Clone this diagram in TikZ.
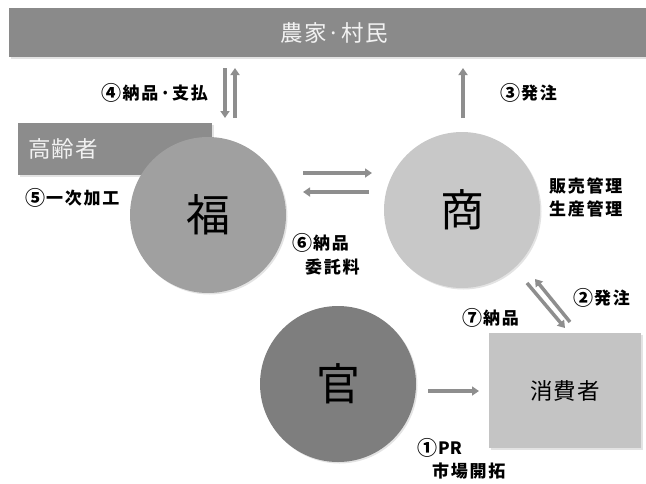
\documentclass[tikz,border=0pt]{standalone}
\usepackage{fontspec}
\setmainfont{Noto Sans CJK JP}
\newfontfamily\lblfont[LetterSpace=10]{Noto Sans CJK JP}
\newfontfamily\plainfont{Noto Sans CJK JP}
\newfontfamily\boxfont[LetterSpace=5]{Noto Sans CJK JP}
\newcommand{\cnum}[1]{\raisebox{-1pt}{\fontsize{20}{23}\selectfont #1}\kern1pt}
\usetikzlibrary{arrows.meta,shadows}
\definecolor{barc}{HTML}{8A8A8A}
\definecolor{oldc}{HTML}{8C8C8C}
\definecolor{fukuc}{HTML}{A0A0A0}
\definecolor{shoc}{HTML}{C8C8C8}
\definecolor{kanc}{HTML}{7E7E7E}
\definecolor{conc}{HTML}{C4C4C4}
\definecolor{arrc}{HTML}{8E8E8E}
\definecolor{lighttext}{HTML}{F2F2F2}
\begin{document}
\begin{tikzpicture}[x=1pt,y=-1pt,
  arr/.style={draw=arrc, line width=3.5pt, -{Triangle[length=7pt,width=9pt]}},
  lbl/.style={font=\lblfont\fontsize{17}{23}\selectfont\bfseries, text=black, inner sep=0pt, align=left},
  shd/.style={drop shadow={opacity=0.22, shadow xshift=1.5pt, shadow yshift=-1.5pt}},
  bigc/.style={circle, shd, minimum size=156pt, inner sep=0pt, font=\fontsize{44}{44}\selectfont, text=black},
  boxt/.style={font=\boxfont\fontsize{22.5}{22.5}\selectfont, inner sep=0pt}]
\useasboundingbox (0,0) rectangle (646,483);
% top bar
\node[boxt, shd, fill=barc, anchor=north west, minimum width=640pt, minimum height=49pt] (farm) at (9,8) {};
\node[boxt, text=lighttext] (farmt) at (334,33) {農家·村民};
% elderly box
\node[boxt, shd, fill=oldc, text=lighttext, anchor=north west, minimum height=52pt, text width=174pt, inner xsep=10pt, align=left] (old) at (18,123) {高齢者};
% circles
\node[bigc, fill=fukuc] (fuku) at (208,215) {福};
\node[bigc, fill=shoc] (sho) at (462,210) {商};
\node[bigc, fill=kanc] (kan) at (338,384) {官};
% consumer box
\node[boxt, shd, fill=conc, anchor=north west, minimum width=152pt, minimum height=115pt] (con) at (489,333) {消費者};
% arrow end points
\coordinate (a4a) at (225,68); \coordinate (a4b) at (225,118);
\coordinate (a4c) at (235,118); \coordinate (a4d) at (235,68);
\coordinate (a3a) at (463,118); \coordinate (a3b) at (463,68);
\coordinate (a6a) at (303,173); \coordinate (a6b) at (372,173);
\coordinate (a6c) at (369,192); \coordinate (a6d) at (303,192);
\coordinate (a7a) at (527,283); \coordinate (a7b) at (565,328);
\coordinate (a2a) at (570,322); \coordinate (a2b) at (535,279);
\coordinate (a1a) at (428,391); \coordinate (a1b) at (479,391);
\draw[arr] (a4a) -- (a4b);
\draw[arr] (a4c) -- (a4d);
\draw[arr] (a3a) -- (a3b);
\draw[arr] (a6a) -- (a6b);
\draw[arr] (a6c) -- (a6d);
\draw[arr] (a7a) -- (a7b);
\draw[arr] (a2a) -- (a2b);
\draw[arr] (a1a) -- (a1b);
% labels
\node[lbl, anchor=east] (l4) at (208,93) {\cnum{④}納品·支払};
\node[lbl, anchor=west] (l3) at (500,93) {\cnum{③}発注};
\node[lbl, anchor=west] (l5) at (25,198) {\cnum{⑤}一次加工};
\node[lbl, anchor=west] (l6a) at (292,243) {\cnum{⑥}納品};
\node[lbl, anchor=west] (l6b) at (305,267) {委託料};
\node[lbl, anchor=west] (lmg) at (549,197) {販売管理\\生産管理};
\node[lbl, anchor=west] (l2) at (573,298) {\cnum{②}発注};
\node[lbl, anchor=west] (l7) at (462,318) {\cnum{⑦}納品};
\node[lbl, anchor=west] (l1a) at (417,448) {\cnum{①}{\plainfont\bfseries PR}};
\node[lbl, anchor=west] (l1b) at (432,471) {市場開拓};
\end{tikzpicture}
\end{document}
